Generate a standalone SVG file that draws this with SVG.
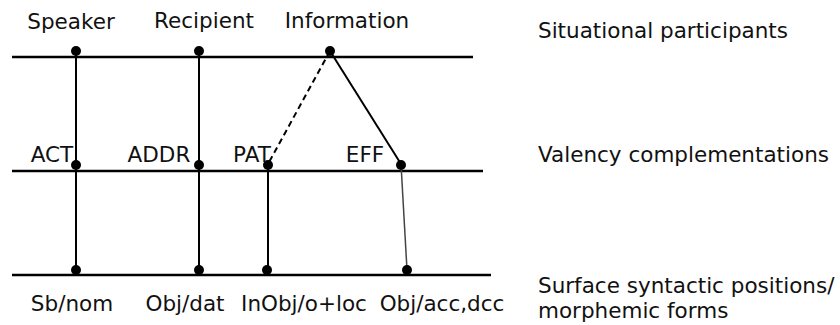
<svg xmlns="http://www.w3.org/2000/svg" width="840" height="325" viewBox="0 0 840 325">
<style>
text{font-family:"DejaVu Sans",sans-serif;font-size:21.5px;fill:#111}
.ln{stroke:#000;stroke-width:2.5;fill:none}
.v{stroke:#000;stroke-width:2;fill:none}
.dot{fill:#000}
</style>
<rect width="840" height="325" fill="#fff"/>
<g id="levels">
<line class="ln" x1="12" y1="57" x2="473" y2="57"/>
<line class="ln" x1="12" y1="171" x2="483" y2="171"/>
<line class="ln" x1="12" y1="275" x2="491" y2="275"/>
</g>
<g id="connectors">
<line class="v" x1="76" y1="51" x2="76" y2="270"/>
<line class="v" x1="199" y1="51" x2="199" y2="270"/>
<line class="v" x1="268" y1="164" x2="268" y2="270"/>
<line class="v" x1="330" y1="51" x2="268" y2="164" stroke-dasharray="6,4" stroke-width="1.5"/>
<line class="v" x1="330" y1="51" x2="401" y2="164" stroke-width="1.5"/>
<line x1="401" y1="164" x2="407" y2="270" stroke="#444" stroke-width="1.5"/>
</g>
<g id="speaker"><circle class="dot" cx="76" cy="51" r="5"/><text x="71" y="29" text-anchor="middle">Speaker</text></g>
<g id="recipient"><circle class="dot" cx="199" cy="51" r="5"/><text x="204" y="28" text-anchor="middle">Recipient</text></g>
<g id="information"><circle class="dot" cx="330" cy="51" r="5"/><text x="347" y="28" text-anchor="middle">Information</text></g>
<g id="act"><circle class="dot" cx="76" cy="165" r="5"/><text x="52" y="162" text-anchor="middle">ACT</text></g>
<g id="addr"><circle class="dot" cx="199" cy="165" r="5"/><text x="159" y="162" text-anchor="middle">ADDR</text></g>
<g id="pat"><circle class="dot" cx="268" cy="165" r="5"/><text x="252" y="162" text-anchor="middle">PAT</text></g>
<g id="eff"><circle class="dot" cx="401" cy="165" r="5"/><text x="365" y="162" text-anchor="middle">EFF</text></g>
<g id="sbnom"><circle class="dot" cx="76" cy="270" r="5"/><text x="72" y="311" text-anchor="middle">Sb/nom</text></g>
<g id="objdat"><circle class="dot" cx="199" cy="270" r="5"/><text x="185" y="311" text-anchor="middle">Obj/dat</text></g>
<g id="inobj"><circle class="dot" cx="267" cy="270" r="5"/><text x="304" y="311" text-anchor="middle">InObj/o+loc</text></g>
<g id="objacc"><circle class="dot" cx="407" cy="270" r="5"/><text x="442" y="311" text-anchor="middle">Obj/acc,dcc</text></g>
<g id="labels">
<text x="538" y="38">Situational participants</text>
<text x="538" y="162">Valency complementations</text>
<text x="538" y="293">Surface syntactic positions/</text>
<text x="538" y="318">morphemic forms</text>
</g>
</svg>
